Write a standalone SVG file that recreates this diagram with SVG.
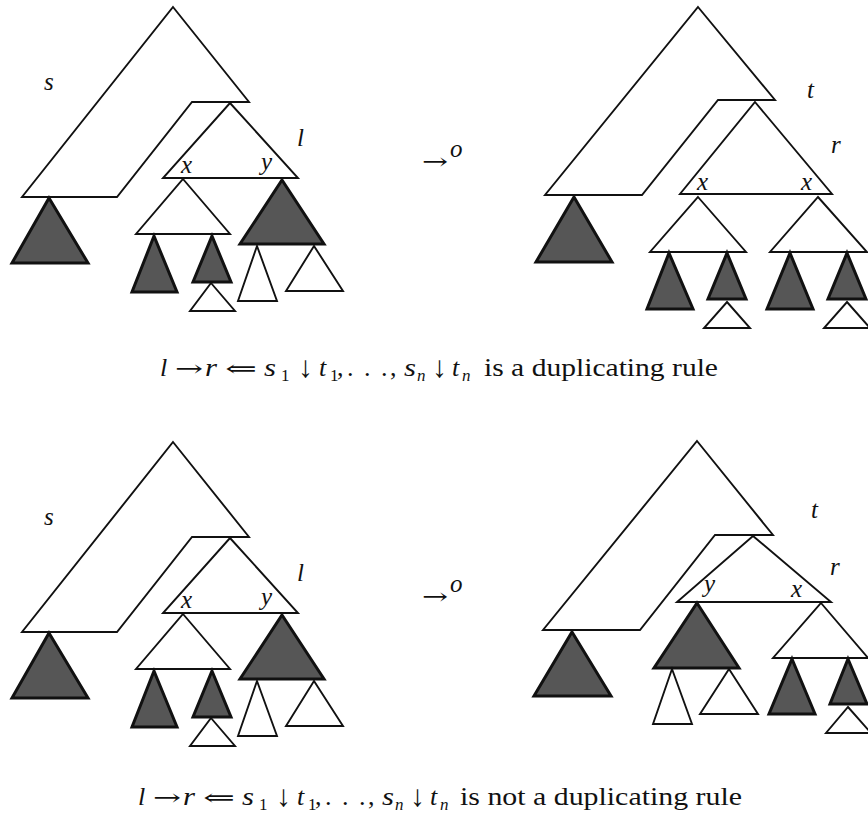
<svg xmlns="http://www.w3.org/2000/svg" width="868" height="814" viewBox="0 0 868 814">
<style>
.w{fill:#fff;stroke:#111;stroke-width:1.9;stroke-linejoin:miter}
.d{fill:#565656;stroke:#111;stroke-width:3;stroke-linejoin:miter}
.lb{font-family:"Liberation Serif","Times New Roman",serif;font-style:italic;font-size:25px;fill:#111}
.cap{font-family:"Liberation Serif","Times New Roman",serif;font-size:26px;fill:#111}
.ar{font-family:"Liberation Serif","DejaVu Serif",serif;font-size:30px;fill:#111}
.ar2{font-family:"DejaVu Serif",serif;font-size:22px;fill:#111}
.i{font-style:italic}
.sub{font-size:17px}
</style>
<rect width="868" height="814" fill="#fff"/>
<g id="panel-top-left">
  <g id="tl-s"><polygon class="w" points="173,7 249,102 192,102 117,197 22,197"/><text class="lb" x="44" y="90">s</text></g>
  <g id="tl-l"><polygon class="w" points="230,103 298,178 163,178"/><text class="lb" x="297" y="146">l</text><text class="lb" x="181" y="173">x</text><text class="lb" x="261" y="170">y</text></g>
  <g id="tl-s-sub"><polygon class="d" points="49,198 88,263 12,263"/></g>
  <g id="tl-x"><polygon class="w" points="183,179 230,234 136,234"/></g>
  <g id="tl-x-d1"><polygon class="d" points="154,236 177,292 132,292"/></g>
  <g id="tl-x-d2"><polygon class="d" points="212,236 231,282 193,282"/></g>
  <g id="tl-x-d2-w"><polygon class="w" points="211,283 235,311 190,311"/></g>
  <g id="tl-y"><polygon class="d" points="282,180 324,244 240,244"/></g>
  <g id="tl-y-w1"><polygon class="w" points="257,246 277,301 238,301"/></g>
  <g id="tl-y-w2"><polygon class="w" points="314,246 343,291 286,291"/></g>
</g>
<g id="arrow-top"><text class="ar2" x="422" y="169" textLength="26" lengthAdjust="spacingAndGlyphs">→</text><text class="lb" x="450" y="157" font-size="17">o</text></g>
<g id="panel-top-right">
  <g id="tr-t"><polygon class="w" points="698,7 775,100 718,100 642,195 545,195"/><text class="lb" x="807" y="98">t</text></g>
  <g id="tr-r"><polygon class="w" points="755,102 832,194 680,194"/><text class="lb" x="831" y="153">r</text><text class="lb" x="697" y="190">x</text><text class="lb" x="801" y="190">x</text></g>
  <g id="tr-t-sub"><polygon class="d" points="574,197 612,262 536,262"/></g>
  <g id="tr-x1"><polygon class="w" points="698,197 746,252 650,252"/></g>
  <g id="tr-x2"><polygon class="w" points="818,197 867,252 770,252"/></g>
  <g id="tr-x1-d1"><polygon class="d" points="669,253 693,309 647,309"/></g>
  <g id="tr-x1-d2"><polygon class="d" points="727,253 746,299 708,299"/></g>
  <g id="tr-x1-w"><polygon class="w" points="727,302 750,328 704,328"/></g>
  <g id="tr-x2-d1"><polygon class="d" points="790,253 813,309 767,309"/></g>
  <g id="tr-x2-d2"><polygon class="d" points="847,253 866,299 828,299"/></g>
  <g id="tr-x2-w"><polygon class="w" points="847,302 870,328 824,328"/></g>
</g>
<g id="caption-top">
  <text class="cap i" x="160" y="376">l</text>
  <text class="ar2" x="175" y="376" textLength="28" lengthAdjust="spacingAndGlyphs">→</text>
  <text class="cap i" x="205" y="376" textLength="12" lengthAdjust="spacingAndGlyphs">r</text>
  <text class="ar2" x="225" y="376" textLength="32" lengthAdjust="spacingAndGlyphs">⇐</text>
  <text class="cap i" x="264" y="376" textLength="12" lengthAdjust="spacingAndGlyphs">s</text>
  <text class="cap sub" x="281" y="381">1</text>
  <text class="ar" x="298" y="377" textLength="15" lengthAdjust="spacingAndGlyphs">↓</text>
  <text class="cap i" x="319" y="376">t</text>
  <text class="cap sub" x="330" y="381">1</text>
  <text class="cap" x="337 347 364 381 390" y="376">,...,</text>
  <text class="cap i" x="404" y="376" textLength="12" lengthAdjust="spacingAndGlyphs">s</text>
  <text class="cap sub i" x="417" y="381">n</text>
  <text class="ar" x="432" y="377" textLength="15" lengthAdjust="spacingAndGlyphs">↓</text>
  <text class="cap i" x="452" y="376">t</text>
  <text class="cap sub i" x="462" y="381">n</text>
  <text class="cap" x="484" y="376" textLength="234" lengthAdjust="spacingAndGlyphs">is a duplicating rule</text>
</g>
<g id="panel-bottom-left" transform="translate(0,435)">
  <g id="bl-s"><polygon class="w" points="173,7 249,102 192,102 117,197 22,197"/><text class="lb" x="44" y="90">s</text></g>
  <g id="bl-l"><polygon class="w" points="230,103 298,178 163,178"/><text class="lb" x="297" y="146">l</text><text class="lb" x="181" y="173">x</text><text class="lb" x="261" y="170">y</text></g>
  <g id="bl-s-sub"><polygon class="d" points="49,198 88,263 12,263"/></g>
  <g id="bl-x"><polygon class="w" points="183,179 230,234 136,234"/></g>
  <g id="bl-x-d1"><polygon class="d" points="154,236 177,292 132,292"/></g>
  <g id="bl-x-d2"><polygon class="d" points="212,236 231,282 193,282"/></g>
  <g id="bl-x-d2-w"><polygon class="w" points="211,283 235,311 190,311"/></g>
  <g id="bl-y"><polygon class="d" points="282,180 324,244 240,244"/></g>
  <g id="bl-y-w1"><polygon class="w" points="257,246 277,301 238,301"/></g>
  <g id="bl-y-w2"><polygon class="w" points="314,246 343,291 286,291"/></g>
</g>
<g id="arrow-bottom"><text class="ar2" x="422" y="604" textLength="26" lengthAdjust="spacingAndGlyphs">→</text><text class="lb" x="450" y="592" font-size="17">o</text></g>
<g id="panel-bottom-right">
  <g id="br-t"><polygon class="w" points="697,441 773,535 715,535 640,630 543,630"/><text class="lb" x="811" y="518">t</text></g>
  <g id="br-r"><polygon class="w" points="753,536 831,602 677,602"/><text class="lb" x="830" y="575">r</text><text class="lb" x="704" y="592">y</text><text class="lb" x="791" y="597">x</text></g>
  <g id="br-t-sub"><polygon class="d" points="572,632 611,696 534,696"/></g>
  <g id="br-y"><polygon class="d" points="697,603 739,668 654,668"/></g>
  <g id="br-y-w1"><polygon class="w" points="672,669 692,724 653,724"/></g>
  <g id="br-y-w2"><polygon class="w" points="729,669 758,714 700,714"/></g>
  <g id="br-x"><polygon class="w" points="821,603 868,658 773,658"/></g>
  <g id="br-x-d1"><polygon class="d" points="792,659 815,714 769,714"/></g>
  <g id="br-x-d2"><polygon class="d" points="848,659 867,704 830,704"/></g>
  <g id="br-x-w"><polygon class="w" points="848,707 871,733 826,733"/></g>
</g>
<g id="caption-bottom">
  <text class="cap i" x="138" y="805">l</text>
  <text class="ar2" x="153" y="805" textLength="28" lengthAdjust="spacingAndGlyphs">→</text>
  <text class="cap i" x="183" y="805" textLength="12" lengthAdjust="spacingAndGlyphs">r</text>
  <text class="ar2" x="203" y="805" textLength="32" lengthAdjust="spacingAndGlyphs">⇐</text>
  <text class="cap i" x="242" y="805" textLength="12" lengthAdjust="spacingAndGlyphs">s</text>
  <text class="cap sub" x="259" y="810">1</text>
  <text class="ar" x="276" y="806" textLength="15" lengthAdjust="spacingAndGlyphs">↓</text>
  <text class="cap i" x="297" y="805">t</text>
  <text class="cap sub" x="308" y="810">1</text>
  <text class="cap" x="315 325 342 359 368" y="805">,...,</text>
  <text class="cap i" x="382" y="805" textLength="12" lengthAdjust="spacingAndGlyphs">s</text>
  <text class="cap sub i" x="395" y="810">n</text>
  <text class="ar" x="410" y="806" textLength="15" lengthAdjust="spacingAndGlyphs">↓</text>
  <text class="cap i" x="430" y="805">t</text>
  <text class="cap sub i" x="440" y="810">n</text>
  <text class="cap" x="460" y="805" textLength="282" lengthAdjust="spacingAndGlyphs">is not a duplicating rule</text>
</g>
</svg>
